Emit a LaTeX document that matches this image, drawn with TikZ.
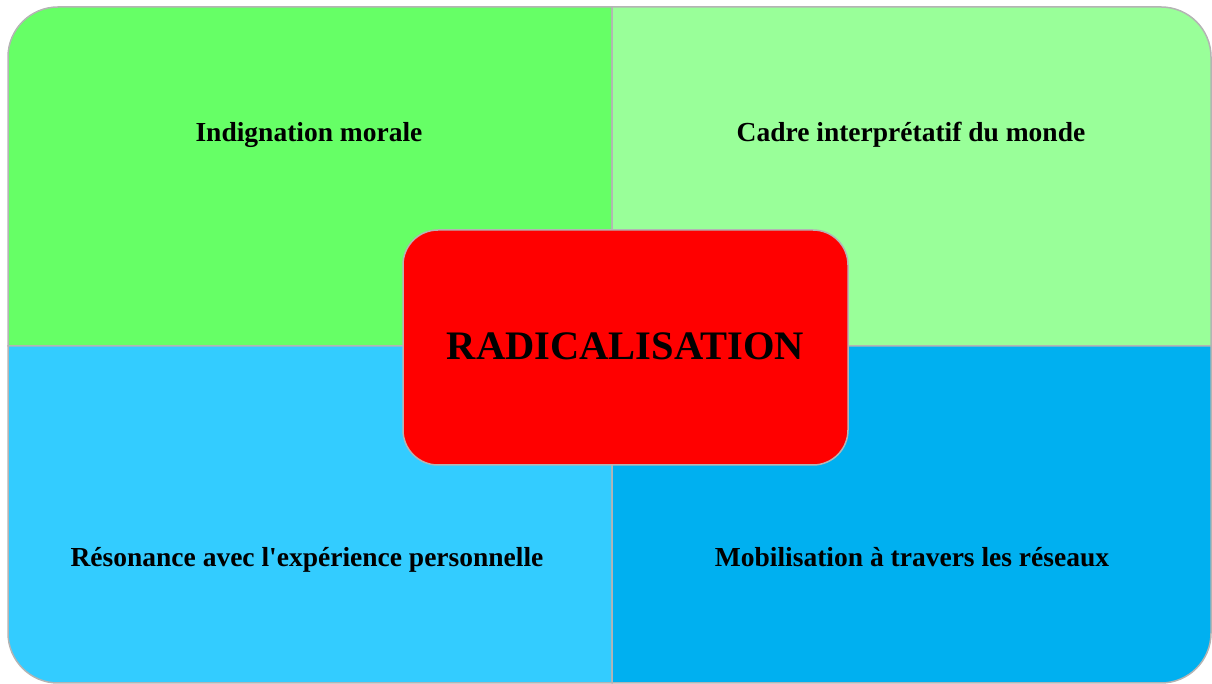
\documentclass[tikz,border=0pt]{standalone}
\usepackage{fontspec}
\setmainfont{Liberation Serif}
\usepackage{tikz}
\definecolor{moralgreen}{HTML}{66FF66}
\definecolor{cadregreen}{HTML}{99FF99}
\definecolor{resoblue}{HTML}{33CCFF}
\definecolor{mobiblue}{HTML}{00B0F0}
\definecolor{radicalred}{HTML}{FF0000}
\definecolor{edgegray}{HTML}{B4B4B4}
\newcommand\quadtext[1]{{\fontsize{27.5}{32}\selectfont\bfseries #1}}

\begin{document}
\begin{tikzpicture}[x=1pt,y=1pt,
  quad/.style={draw=edgegray,line width=1.5pt},
  label/.style={inner sep=0pt,text=black,anchor=base}]
\useasboundingbox (0,0) rectangle (1212,684);
% four quarters
\filldraw[quad,fill=moralgreen] (612,338) -- (8,338) -- (8,627)
  arc[start angle=180,end angle=90,radius=50] -- (612,677) -- cycle;
\filldraw[quad,fill=cadregreen] (612,338) -- (612,677) -- (1161,677)
  arc[start angle=90,end angle=0,radius=50] -- (1211,338) -- cycle;
\filldraw[quad,fill=resoblue] (612,338) -- (8,338) -- (8,51)
  arc[start angle=180,end angle=270,radius=50] -- (612,1) -- cycle;
\filldraw[quad,fill=mobiblue] (612,338) -- (1211,338) -- (1211,51)
  arc[start angle=0,end angle=-90,radius=50] -- (612,1) -- cycle;
% texts
\node[label] (moral) at (309,542) {\quadtext{Indignation morale}};
\node[label] (cadre) at (911,542) {\quadtext{Cadre interprétatif du monde}};
\node[label] (reso) at (307,117) {\quadtext{Résonance avec l\textquotesingle expérience personnelle}};
\node[label] (mobi) at (912,117) {\quadtext{Mobilisation à travers les réseaux}};
% centre
\node[draw=edgegray,line width=1.5pt,fill=radicalred,rounded corners=35pt,
  minimum width=445pt,minimum height=235pt,inner sep=0pt] (radical) at (625.5,336.5)
  {\raisebox{3pt}{\fontsize{40.5}{44}\selectfont\bfseries RADICALISATION}};
\end{tikzpicture}
\end{document}
